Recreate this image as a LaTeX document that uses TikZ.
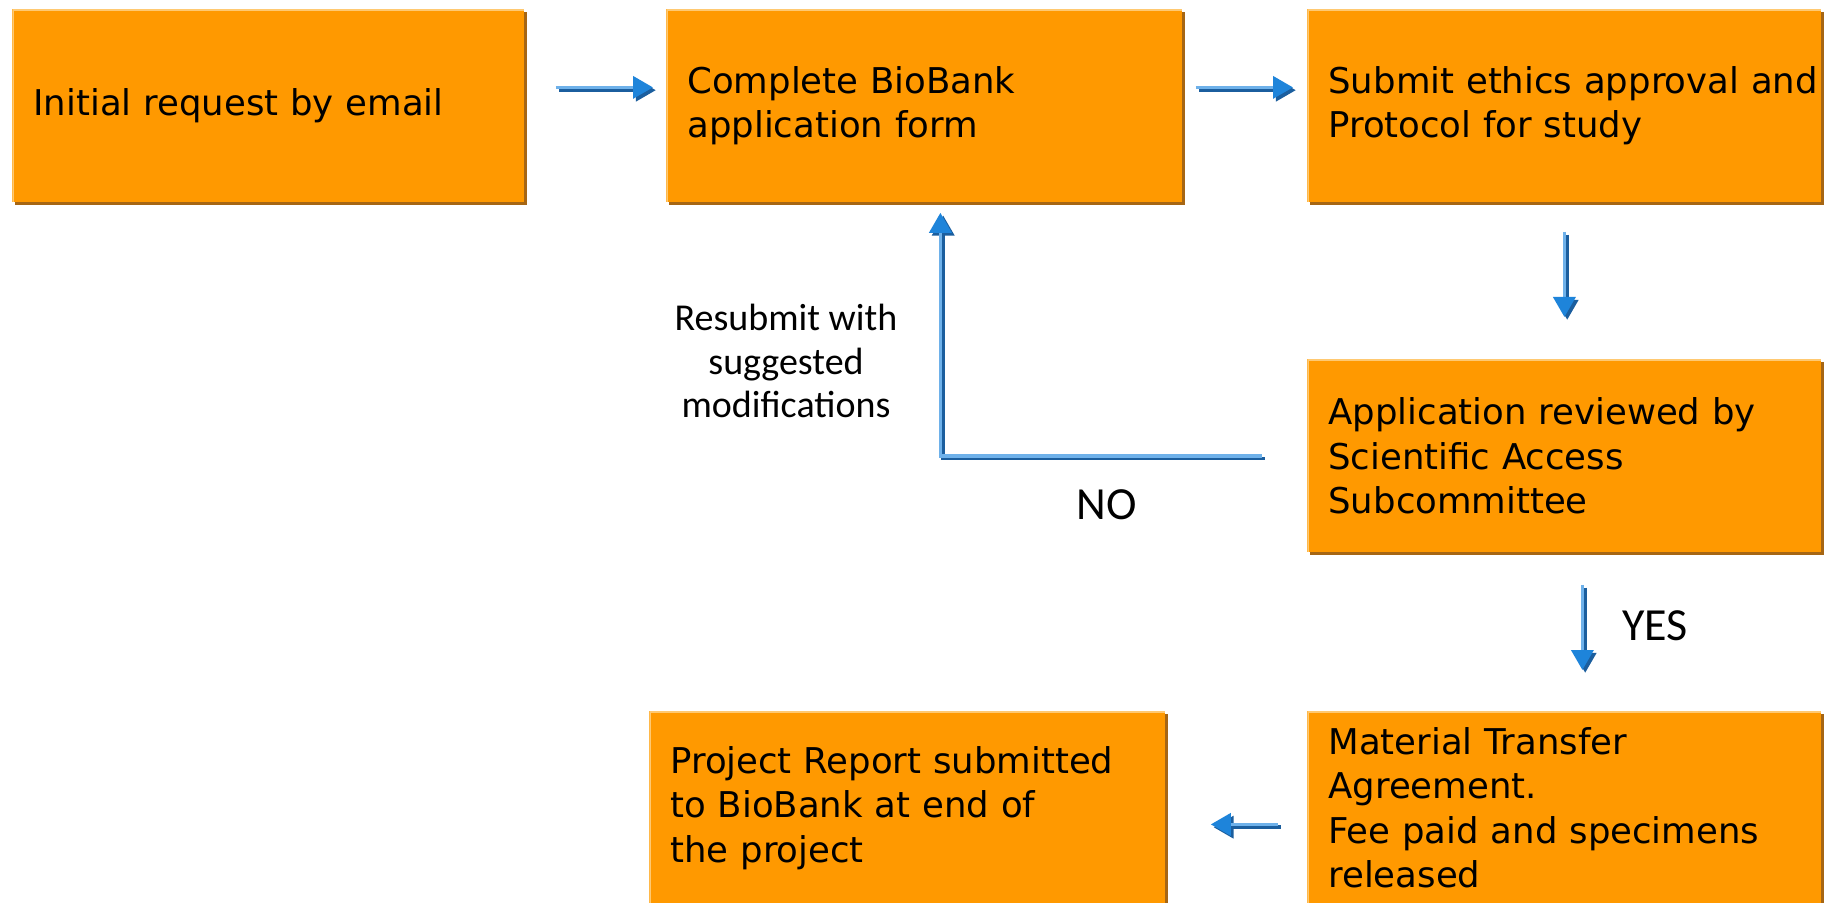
\documentclass[tikz,border=0pt]{standalone}
\usepackage{fontspec}
\newfontfamily\boxfont{DejaVu Sans}
\newfontfamily\lblfont{Carlito}
\usetikzlibrary{arrows.meta,shadows,calc}
\definecolor{boxorange}{RGB}{255,153,0}
\definecolor{boxshadow}{RGB}{166,102,20}
\definecolor{lightedge}{RGB}{255,201,113}
\definecolor{arrlight}{RGB}{110,177,234}
\definecolor{arrdark}{RGB}{27,94,158}
\definecolor{arrmid}{RGB}{30,132,218}
\tikzset{
  stepbox/.style={rectangle, fill=boxorange, draw=none, anchor=north west,
    minimum height=96.5pt, inner xsep=10.5pt, inner ysep=0pt, align=left,
    font=\boxfont\fontsize{17.75}{22.2}\selectfont,
    drop shadow={shadow xshift=1.5pt, shadow yshift=-1.5pt, fill=boxshadow, opacity=1},
    path picture={\draw[lightedge, line width=2pt]
      (path picture bounding box.south west) -- (path picture bounding box.north west)
      -- (path picture bounding box.north east);}},
  arrdk/.style={draw=arrdark, line width=1.8pt, line join=miter,
    -{Triangle[width=11pt,length=10pt,fill=arrdark,color=arrdark]},
    transform canvas={shift={(1.4pt,-1.4pt)}}},
  arrlt/.style={draw=arrlight, line width=1.8pt, line join=miter,
    -{Triangle[width=11pt,length=10pt,fill=arrmid,color=arrmid]}},
  lbl/.style={font=\lblfont\fontsize{19}{21.75}\selectfont, align=center, inner sep=0pt},
  biglbl/.style={font=\lblfont\fontsize{23}{27}\selectfont, inner sep=0pt}
}
\begin{document}
\begin{tikzpicture}[x=0.5pt,y=-0.5pt]
\useasboundingbox (0,0) rectangle (1827,903);
\fill[white] (0,0) rectangle (1827,903);

\node[stepbox, text width=235pt] (b1) at (12,9) {Initial request by email};
\node[stepbox, text width=237pt] (b2) at (666,9) {Complete BioBank\\application form};
\node[stepbox, text width=236pt] (b3) at (1307,9) {\mbox{Submit ethics approval and}\\Protocol for study};
\node[stepbox, text width=236pt] (b4) at (1307,359) {Application reviewed by\\Scientific Access\\Subcommittee};
\node[stepbox, text width=236pt] (b5) at (1307,711) {Material Transfer\\Agreement.\\Fee paid and specimens\\released};
\node[stepbox, text width=237pt] (b6) at (649,711) {Project Report submitted\\to BioBank at end of\\the project};

% b1 -> b2
\draw[arrdk, shorten <=15.5pt, shorten >=6.5pt] ([yshift=9.25pt]b1.east) -- ([yshift=9.25pt]b2.west);
\draw[arrlt, shorten <=15.5pt, shorten >=6.5pt] ([yshift=9.25pt]b1.east) -- ([yshift=9.25pt]b2.west);
% b2 -> b3
\draw[arrdk, shorten <=6.5pt, shorten >=7pt] ([yshift=9.25pt]b2.east) -- ([yshift=9.25pt]b3.west);
\draw[arrlt, shorten <=6.5pt, shorten >=7pt] ([yshift=9.25pt]b2.east) -- ([yshift=9.25pt]b3.west);
% b3 -> b4
\draw[arrdk, shorten <=14.5pt, shorten >=21pt] (b3.south) -- (b4.north);
\draw[arrlt, shorten <=14.5pt, shorten >=21pt] (b3.south) -- (b4.north);
% b4 -> b5 (YES)
\draw[arrdk, shorten <=16pt, shorten >=20.5pt] ([xshift=9pt]b4.south) -- ([xshift=9pt]b5.north);
\draw[arrlt, shorten <=16pt, shorten >=20.5pt] ([xshift=9pt]b4.south) -- ([xshift=9pt]b5.north);
% b5 -> b6
\draw[arrdk, shorten <=14.5pt, shorten >=22.5pt] ([yshift=-8.25pt]b5.west) -- ([yshift=-8.25pt]b6.east);
\draw[arrlt, shorten <=14.5pt, shorten >=22.5pt] ([yshift=-8.25pt]b5.west) -- ([yshift=-8.25pt]b6.east);
% b4 -> b2 (NO)
\draw[arrdk, shorten <=22.5pt, shorten >=5pt] (b4.west) -| ([xshift=8pt]b2.south);
\draw[arrlt, shorten <=22.5pt, shorten >=5pt] (b4.west) -| ([xshift=8pt]b2.south);

\node[lbl] (resub) at (786,361) {Resubmit with\\suggested\\modifications};
\node[biglbl] (no) at (1107,505) {NO};
\node[biglbl] (yes) at (1655,626) {YES};
\end{tikzpicture}
\end{document}
